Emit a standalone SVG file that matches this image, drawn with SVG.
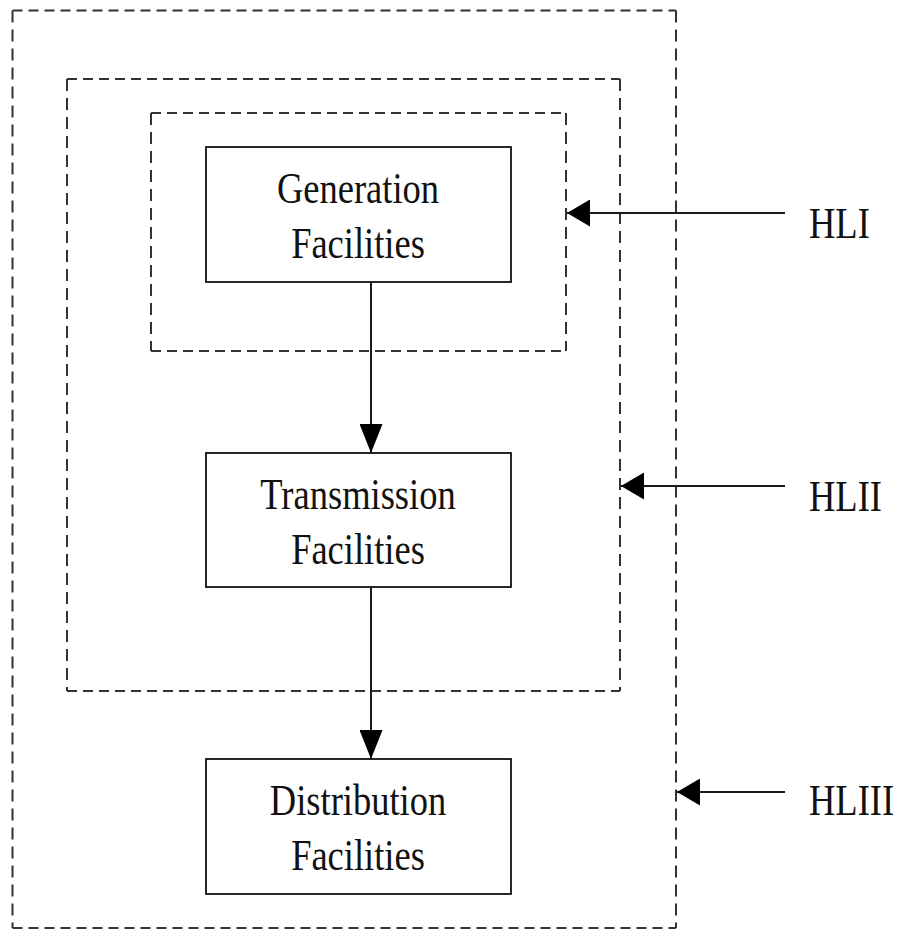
<svg xmlns="http://www.w3.org/2000/svg" width="899" height="930" viewBox="0 0 899 930">
<style>
.dash{fill:none;stroke:#333;stroke-width:2}
.dh{stroke-dasharray:10 6}
.dv{stroke-dasharray:12 7}
.box{fill:#fff;stroke:#111;stroke-width:1.8}
.conn{stroke:#1a1a1a;stroke-width:2;fill:none}
.t{font-family:"Liberation Serif","Times New Roman",serif;font-size:36.5px;fill:#111}
.c{text-anchor:middle}
</style>
<defs>
<marker id="arrowV" markerUnits="userSpaceOnUse" markerWidth="29" markerHeight="23" refX="29" refY="11.5" orient="auto" viewBox="0 0 29 23"><path d="M0,0 L29,11.5 L0,23 z" fill="#000"/></marker>
<marker id="arrowH" markerUnits="userSpaceOnUse" markerWidth="23" markerHeight="27" refX="23" refY="13.5" orient="auto" viewBox="0 0 23 27"><path d="M0,0 L23,13.5 L0,27 z" fill="#000"/></marker>
</defs>
<rect width="899" height="930" fill="#fff"/>
<g id="HLIII-boundary">
<path class="dash dh" d="M12.5,10.5 H676 M12.5,928 H676"/>
<path class="dash dv" d="M12.5,10.5 V928 M676,10.5 V928"/>
</g>
<g id="HLII-boundary">
<path class="dash dh" d="M67,79 H620 M67,691 H620"/>
<path class="dash dv" d="M67,79 V691 M620,79 V691"/>
</g>
<g id="HLI-boundary">
<path class="dash dh" d="M151,113 H566 M151,351 H566"/>
<path class="dash dv" d="M151,113 V351 M566,113 V351"/>
</g>
<g id="connectors">
<line class="conn" x1="371" y1="282" x2="371" y2="453" marker-end="url(#arrowV)"/>
<line class="conn" x1="371" y1="587" x2="371" y2="759" marker-end="url(#arrowV)"/>
<line class="conn" x1="785" y1="213" x2="567" y2="213" marker-end="url(#arrowH)"/>
<line class="conn" x1="785" y1="486" x2="621" y2="486" marker-end="url(#arrowH)"/>
<line class="conn" x1="785" y1="792" x2="677" y2="792" stroke="#555" marker-end="url(#arrowH)"/>
</g>
<g id="generation">
<rect class="box" x="206" y="147" width="305" height="135"/>
<text class="t c" transform="translate(358,203) scale(1,1.2)">Generation</text>
<text class="t c" transform="translate(358,258) scale(1,1.2)">Facilities</text>
</g>
<g id="transmission">
<rect class="box" x="206" y="453" width="305" height="134"/>
<text class="t c" transform="translate(358,509) scale(1,1.2)">Transmission</text>
<text class="t c" transform="translate(358,564) scale(1,1.2)">Facilities</text>
</g>
<g id="distribution">
<rect class="box" x="206" y="759" width="305" height="135"/>
<text class="t c" transform="translate(358,815) scale(1,1.2)">Distribution</text>
<text class="t c" transform="translate(358,870) scale(1,1.2)">Facilities</text>
</g>
<g id="label-HLI"><text class="t" transform="translate(809,238) scale(1,1.2)">HLI</text></g>
<g id="label-HLII"><text class="t" transform="translate(809,511) scale(1,1.2)">HLII</text></g>
<g id="label-HLIII"><text class="t" transform="translate(809,815) scale(1,1.2)">HLIII</text></g>
</svg>
